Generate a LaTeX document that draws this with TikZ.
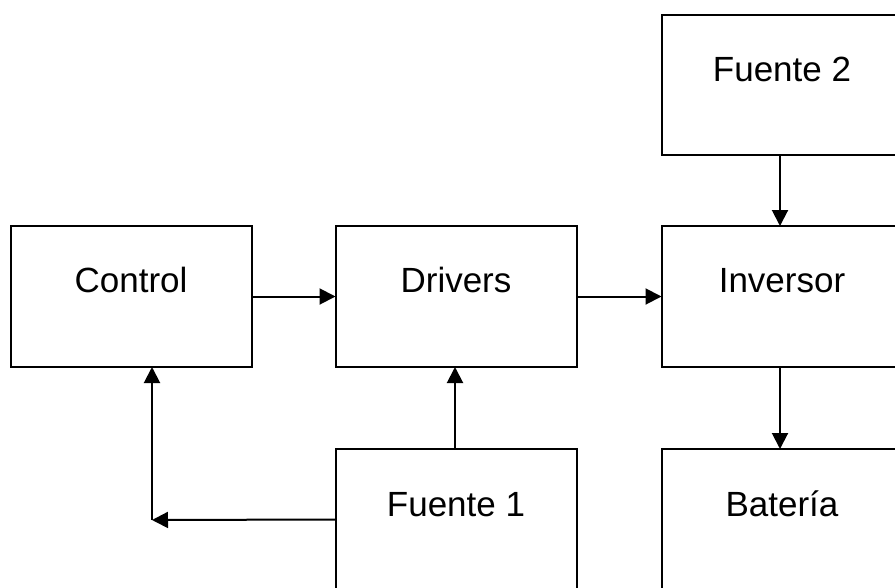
\documentclass[tikz,border=0pt]{standalone}
\usepackage{fontspec}
\setmainfont{Liberation Sans}
\usetikzlibrary{arrows.meta}

\begin{document}
\begin{tikzpicture}[x=1pt, y=-1pt,
  box/.style={draw=black, line width=2pt, rectangle, outer sep=0pt,
              minimum width=241pt, minimum height=141pt, inner sep=0pt},
  lbl/.style={anchor=base, inner sep=0pt, font=\fontsize{35}{42}\selectfont},
  arr/.style={line width=2pt, -{Triangle[length=16pt, width=16pt]}}]

  % page frame
  \useasboundingbox (0,0) rectangle (895,587);
  \clip (0,0) rectangle (895,587);

  % blocks
  \node[box, minimum height=140pt] (fuente2) at (782,85) {};
  \node[box] (control)  at (131,296.5) {};
  \node[box] (drivers)  at (456,296.5) {};
  \node[box] (inversor) at (782,296.5) {};
  \node[box] (fuente1)  at (456,519.5) {};
  \node[box] (bateria)  at (782,519.5) {};

  % block titles, set in the upper part of each block
  \node[lbl] (tf2)  at (782,81)  {Fuente 2};
  \node[lbl] (tctl) at (131,292) {Control};
  \node[lbl] (tdrv) at (456,292) {Drivers};
  \node[lbl] (tinv) at (782,292) {Inversor};
  \node[lbl] (tf1)  at (456,516) {Fuente 1};
  \node[lbl] (tbat) at (782,516) {Batería};

  % signal and power flow
  \draw[arr] ([xshift=-2pt]fuente2.south) -- ([xshift=-2pt]inversor.north);
  \draw[arr] ([xshift=-2pt]inversor.south) -- ([xshift=-2pt]bateria.north);
  \draw[arr] (control.east) -- (drivers.west);
  \draw[arr] (drivers.east) -- (inversor.west);
  \draw[arr] ([xshift=-1pt]fuente1.north) -- ([xshift=-1pt]drivers.south);

  % feedback from Fuente 1 to Control
  \coordinate (corner) at (152,520);
  \draw[arr] (fuente1.west) -- (corner);
  \draw[arr] (corner) -- (control.south -| corner);
\end{tikzpicture}
\end{document}
